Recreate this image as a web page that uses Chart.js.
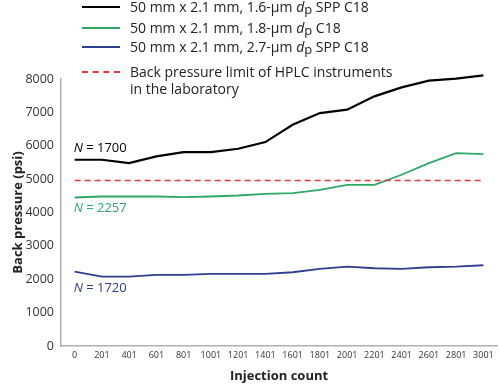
<!DOCTYPE html>
<html>
<head>
<meta charset="utf-8">
<script src="https://cdn.jsdelivr.net/npm/chart.js@4.4.1/dist/chart.umd.min.js"></script>
<style>
  body { margin: 0; background: #fff; }
  #wrap { position: relative; width: 500px; height: 386px; }
  #legend { position: absolute; left: 82px; top: 0; font-family: "Open Sans", sans-serif; font-size: 14px; color: #222; }
  #legend .row { position: absolute; left: 0; white-space: nowrap; line-height: 17px; }
  #legend .sw { position: absolute; left: 0; width: 38px; height: 0; }
  #legend .tx { position: absolute; left: 48px; top: -9px; }
  #legend i { font-style: italic; }
  #legend sub { font-size: 13px; vertical-align: -2px; line-height: 0; }
</style>
</head>
<body>
<div id="wrap">
  <canvas id="chart-0" width="500" height="386"></canvas>
  <div id="legend"></div>
</div>
<script>
// injection count categories (x axis)
var injections = ['0', '201', '401', '601', '801', '1001', '1201', '1401', '1601', '1801', '2001', '2201', '2401', '2601', '2801', '3001'];

// back pressure (psi)
var spp16 = [5580, 5580, 5480, 5680, 5810, 5810, 5910, 6110, 6630, 6980, 7080, 7480, 7750, 7950, 8010, 8110];
var fpp18 = [4450, 4480, 4480, 4480, 4460, 4480, 4510, 4560, 4580, 4680, 4830, 4830, 5130, 5480, 5780, 5750];
var spp27 = [2230, 2080, 2080, 2130, 2130, 2160, 2160, 2160, 2210, 2310, 2380, 2330, 2310, 2360, 2380, 2420];
var limit = [4960, 4960, 4960, 4960, 4960, 4960, 4960, 4960, 4960, 4960, 4960, 4960, 4960, 4960, 4960, 4960];

var seriesNames = ['50 mm x 2.1 mm, 1.6-\u03bcm <i>d</i><sub>p</sub> SPP C18',
                   '50 mm x 2.1 mm, 1.8-\u03bcm <i>d</i><sub>p</sub> C18',
                   '50 mm x 2.1 mm, 2.7-\u03bcm <i>d</i><sub>p</sub> SPP C18',
                   'Back pressure limit of HPLC instruments<br>in the laboratory'];
var nLabels = ['1700', '2257', '1720'];
var colors = ['#000000', '#2fa866', '#2f3f8f', '#e03a3c'];

var font = '"Open Sans", sans-serif';

// legend, drawn as html so the italic d and subscript p stay real text
var legendRows = [7, 28, 47, 72];
var legendEl = document.getElementById('legend');
seriesNames.forEach(function(name, i) {
  var row = document.createElement('div');
  row.className = 'row';
  row.style.top = legendRows[i] + 'px';
  var sw = document.createElement('div');
  sw.className = 'sw';
  sw.style.borderTop = (i == 3 ? '2px dashed ' : '2px solid ') + colors[i];
  sw.style.top = '-1px';
  var tx = document.createElement('div');
  tx.className = 'tx';
  tx.innerHTML = name;
  row.appendChild(sw);
  row.appendChild(tx);
  legendEl.appendChild(row);
});

// "N = ..." notes next to the first point of each line
var nNotes = {
  id: 'nNotes',
  afterDatasetsDraw: function(chart) {
    var ctx = chart.ctx;
    var x = chart.scales.x.getPixelForValue(0) - 1;
    var offs = [-11, 11, 17];
    ctx.save();
    ctx.textBaseline = 'middle';
    [spp16, fpp18, spp27].forEach(function(arr, i) {
      var y = chart.scales.y.getPixelForValue(arr[0]) + offs[i];
      ctx.fillStyle = colors[i];
      ctx.font = 'italic 13px ' + font;
      ctx.fillText('N', x, y);
      var w = ctx.measureText('N').width;
      ctx.font = '13px ' + font;
      ctx.fillText(' = ' + nLabels[i], x + w, y);
    });
    ctx.restore();
  }
};

function line(data, color, width, dash) {
  return {
    data: data,
    borderColor: color,
    borderWidth: width,
    borderDash: dash || [],
    pointRadius: 0,
    tension: 0,
    fill: false,
    clip: false
  };
}

new Chart(document.getElementById('chart-0'), {
  type: 'line',
  data: {
    labels: injections,
    datasets: [
      line(limit, colors[3], 1.6, [6, 4]),
      line(spp27, colors[2], 1.8),
      line(fpp18, colors[1], 1.8),
      line(spp16, colors[0], 2.2)
    ]
  },
  options: {
    responsive: false,
    animation: false,
    layout: { padding: { left: 10, right: 3, top: 79, bottom: 2 } },
    plugins: { legend: { display: false }, tooltip: { enabled: false } },
    scales: {
      x: {
        offset: true,
        grid: { display: false, drawTicks: false },
        border: { color: '#b0b0b0', width: 1.5 },
        ticks: { color: '#333', font: { family: font, size: 9 }, maxRotation: 0, autoSkip: false, padding: 4 },
        title: { display: true, text: 'Injection count', color: '#222', font: { family: font, size: 13, weight: 'bold' }, padding: { top: 2, bottom: 0 } },
        afterFit: function(scale) { scale.height = 38; }
      },
      y: {
        min: 0,
        max: 8000,
        grid: { display: false, drawTicks: false },
        border: { color: '#b0b0b0', width: 1.5 },
        ticks: { stepSize: 1000, color: '#333', font: { family: font, size: 12.5 }, padding: 7,
                 callback: function(v) { return String(v); } },
        title: { display: true, text: 'Back pressure (psi)', color: '#222', font: { family: font, size: 13, weight: 'bold' }, padding: { top: 0, bottom: 2 } },
        afterFit: function(scale) { scale.width = 51; }
      }
    }
  },
  plugins: [nNotes]
});
</script>
</body>
</html>
